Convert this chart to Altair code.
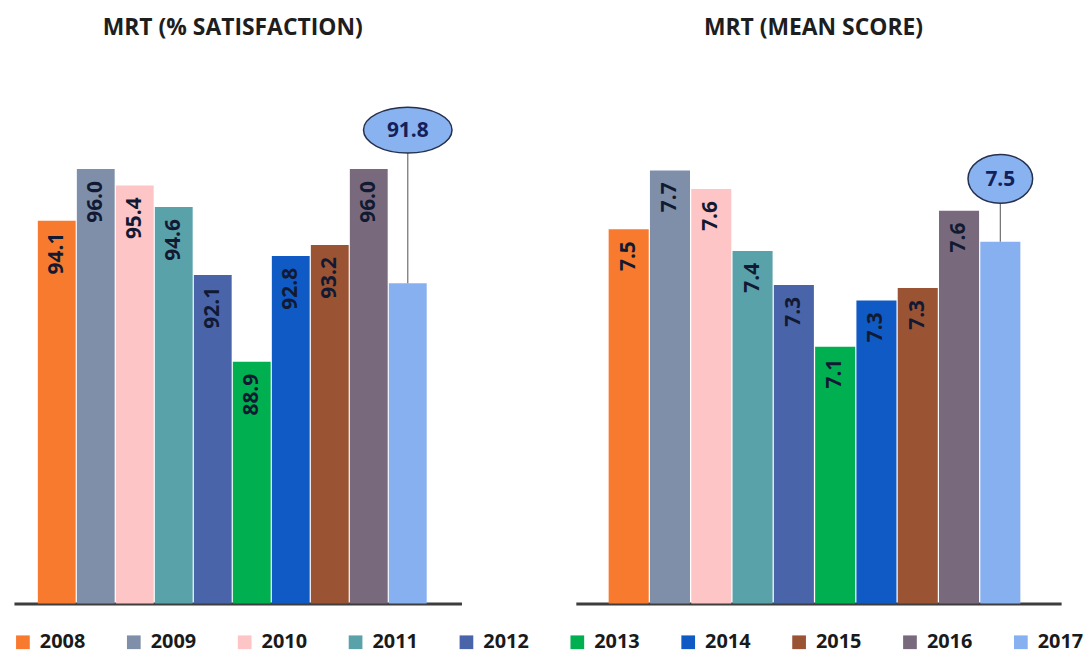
import altair as alt
import pandas as pd

years = ["2008", "2009", "2010", "2011", "2012", "2013", "2014", "2015", "2016", "2017"]
satisfaction = [94.1, 96.0, 95.4, 94.6, 92.1, 88.9, 92.8, 93.2, 96.0, 91.8]
mean_score = [7.51, 7.70, 7.64, 7.44, 7.33, 7.13, 7.28, 7.32, 7.57, 7.47]
colors = ["#F87A2E", "#7F8FA9", "#FDC5C5", "#5AA2A9", "#4A64AA",
          "#00B050", "#0F5AC5", "#9A5433", "#786A7C", "#86B0F0"]
callout_year = "2017"

FONT = "Open Sans"
LABEL_COLOR = "#121a33"


def ellipse_path(r):
    k = 0.5523
    return (f"M 1 0 C 1 {k*r:.4f} {k:.4f} {r:.4f} 0 {r:.4f} "
            f"C {-k:.4f} {r:.4f} -1 {k*r:.4f} -1 0 "
            f"C -1 {-k*r:.4f} {-k:.4f} {-r:.4f} 0 {-r:.4f} "
            f"C {k:.4f} {-r:.4f} 1 {-k*r:.4f} 1 0 Z")


def panel(values, title, domain, width, height, pad_outer, align,
          ell_y, ell_w, ell_h):
    df = pd.DataFrame({"year": years, "value": values})
    df["label"] = [f"{v:.1f}" for v in values]
    x = alt.X("year:N", sort=years,
              scale=alt.Scale(paddingInner=0.03, paddingOuter=pad_outer, align=align),
              axis=alt.Axis(labels=False, ticks=False, title=None, domain=True,
                            domainWidth=3, domainColor="#3d3d3d", grid=False))
    y = alt.Y("value:Q", scale=alt.Scale(domain=domain, nice=False, zero=False),
              axis=None)
    color = alt.Color("year:N", sort=years,
                      scale=alt.Scale(domain=years, range=colors),
                      legend=alt.Legend(title=None))
    base = alt.Chart(df)
    bars = base.mark_bar(clip=True).encode(x=x, y=y, color=color)
    labels = base.transform_filter(alt.datum.year != callout_year).mark_text(
        angle=270, align="right", baseline="middle", dx=-12,
        font=FONT, fontSize=21, fontWeight="bold", color=LABEL_COLOR
    ).encode(x=x, y=y, text="label:N")
    cdf = base.transform_filter(alt.datum.year == callout_year)
    rule = cdf.mark_rule(color="#6e6e6e", strokeWidth=1.2).encode(
        x=x, y=y, y2=alt.value(ell_y + ell_h / 2))
    ell = cdf.mark_point(
        shape=ellipse_path(ell_h / ell_w), size=ell_w * ell_w, filled=True,
        fill="#88B2F0", stroke="#26304f", strokeWidth=1.5, opacity=1
    ).encode(x=x, y=alt.value(ell_y))
    ell_text = cdf.mark_text(
        align="center", baseline="middle", font=FONT, fontSize=21,
        fontWeight="bold", color="#14205a", dy=1
    ).encode(x=x, y=alt.value(ell_y), text="label:N")
    return alt.layer(bars, labels, rule, ell, ell_text).properties(
        width=width, height=height,
        title=alt.TitleParams(title, font=FONT, fontSize=23, fontWeight="bold",
                              color="#1e1e1e", anchor="middle", offset=21,
                              dx=-5, frame="group"))


left = panel(satisfaction, "MRT (% SATISFACTION)", [80, 100], 450, 546,
             0.752, 0.407, 70, 89, 46)
right = panel(mean_score, "MRT (MEAN SCORE)", [6.3, 6.3 + 546 / 311], 488, 546,
              0.891, 0.446, 119, 65, 49)

chart = alt.hconcat(left, right, spacing=115).properties(
    padding={"left": 5, "top": 7, "right": 0, "bottom": 0},
    background="white"
).configure_view(stroke=None).configure_legend(
    orient="none", legendX=-1, legendY=575,
    direction="horizontal", columns=10,
    symbolType="square", symbolSize=190, symbolStrokeWidth=0,
    labelFont=FONT, labelFontSize=20, labelFontWeight="bold",
    labelColor="#1a1a1a", labelOffset=7, columnPadding=38.5,
    padding=0
)

chart.save("out.html", embed_options={"renderer": "svg", "actions": False})
